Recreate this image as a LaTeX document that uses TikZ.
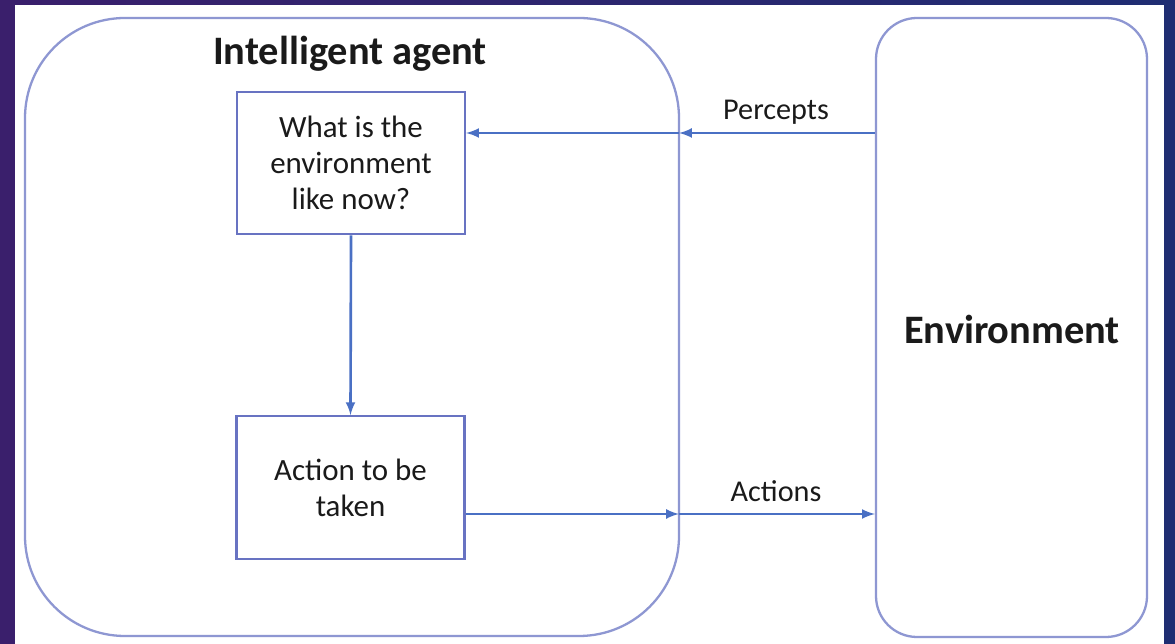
\documentclass[tikz,border=0pt]{standalone}
\usepackage{fontspec}
\setmainfont{Carlito}
\usepackage{xcolor}
\usepackage{tikz}
\usetikzlibrary{positioning,calc,arrows}

\definecolor{slidepurple}{HTML}{3A1F6C}
\definecolor{slidenavy}{HTML}{1F2D72}
\definecolor{outerline}{HTML}{8E97D2}
\definecolor{innerline}{HTML}{6873C2}
\definecolor{arrowblue}{HTML}{4A70C4}
\definecolor{inktext}{HTML}{1A1A1A}

\begin{document}
\begin{tikzpicture}[
  outerbox/.style={draw=outerline,line width=1.3pt,fill=white},
  innerbox/.style={draw=innerline,line width=1.3pt,fill=white,
    minimum width=4.56cm,minimum height=2.85cm,align=center,
    text=inktext,font=\fontsize{17.6}{20.5}\selectfont},
  flow/.style={->,>=latex,draw=arrowblue,line width=1.5pt},
  bigtitle/.style={text=inktext,font=\fontsize{23}{27}\selectfont\bfseries},
  flowlabel/.style={text=inktext,font=\fontsize{17.2}{20}\selectfont}
]
\useasboundingbox (0,0) rectangle (23.5,12.88);
\shade[left color=slidepurple,right color=slidenavy] (0,0) rectangle (23.5,12.88);
\fill[white] (0.3,0) rectangle (23.28,12.78);

% the two big frames
\draw[outerbox,rounded corners=2cm] (0.5,0.16) rectangle (13.58,12.52);
\node[outerbox,rounded corners=0.82cm,minimum width=5.42cm,minimum height=12.38cm] (env) at (20.23,6.33) {};
\node[bigtitle] (agenttitle) at (7.0,11.8) {Intelligent agent};
\node[bigtitle] at (20.24,6.3) {Environment};

% inner boxes
\node[innerbox] (state) at (7.02,9.62) {What is the\\environment\\like now?};
\node[innerbox] (act) at (7.01,3.13) {Action to be\\taken};

% points on the agent frame
\coordinate (pin) at (13.58,10.22);
\coordinate (pout) at (13.58,2.6);

\draw[flow] (env.west |- pin) -- (pin);
\draw[flow] (pin) -- (state.east |- pin);
\draw[flow] (state.south) -- (act.north);
\draw[flow] (act.east |- pout) -- (pout);
\draw[flow] (pout) -- (env.west |- pout);

\node[flowlabel] at (15.52,10.64) {Percepts};
\node[flowlabel] at (15.52,3.06) {Actions};
\end{tikzpicture}
\end{document}
